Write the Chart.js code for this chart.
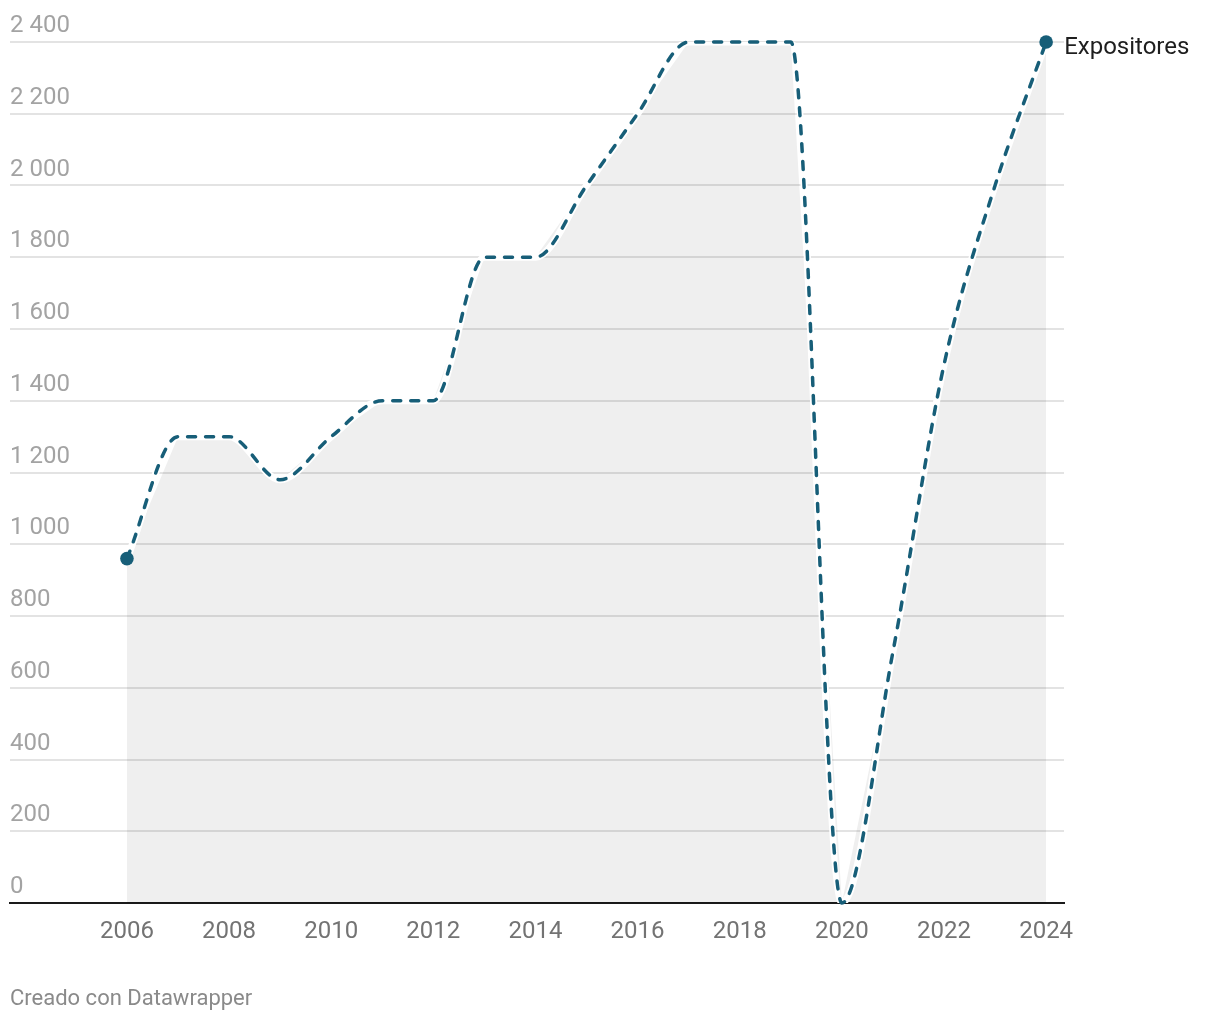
<!DOCTYPE html>
<html><head><meta charset="utf-8">
<script src="https://cdn.jsdelivr.net/npm/chart.js@4"></script>
<style>html,body{margin:0;padding:0;background:#fff}#wrap{width:1220px;height:1020px;position:relative}</style>
</head><body><div id="wrap"><canvas id="c" width="1220" height="1020"></canvas></div>
<script>
const years = [2006,2007,2008,2009,2010,2011,2012,2013,2014,2015,2016,2017,2018,2019,2020,2021,2022,2023,2024];
const expositores = [960,1300,1300,1180,1300,1400,1400,1800,1800,2000,2200,2400,2400,2400,0,700,1500,2000,2400];
const yTicks = [0,200,400,600,800,1000,1200,1400,1600,1800,2000,2200,2400];
const xTicks = [2006,2008,2010,2012,2014,2016,2018,2020,2022,2024];
const seriesLabel = 'Expositores';
const footerText = 'Creado con Datawrapper';

const lineColor = '#175e78';
const FONT = 'Roboto';
const pts = years.map((y,i)=>({x:y, y:expositores[i]}));
const lastIdx = years.length-1;

function fmt(v){ const s = String(v); return v>=1000 ? s.slice(0,s.length-3)+' '+s.slice(-3) : s; }

const labelPlugin = {
  id:'labels',
  afterDatasetsDraw(chart){
    const ctx = chart.ctx;
    const meta = chart.getDatasetMeta(2);
    const p = meta.data[lastIdx];
    ctx.save();
    ctx.font = '24px ' + FONT;
    ctx.fillStyle = '#1e1e1e';
    ctx.textAlign = 'left';
    ctx.textBaseline = 'middle';
    ctx.fillText(seriesLabel, p.x + 18, p.y + 6);
    ctx.font = '22px ' + FONT;
    ctx.fillStyle = '#8a8a8a';
    ctx.fillText(footerText, 10, 999);
    ctx.restore();
  }
};

new Chart(document.getElementById('c'), {
  type:'line',
  data:{ datasets:[
    { data: pts, tension:0, fill:'origin', backgroundColor:'rgba(0,0,0,0.063)', borderWidth:0, pointRadius:0, order:3 },
    { data: pts, cubicInterpolationMode:'monotone', fill:false, borderColor:'#ffffff', borderWidth:7, pointRadius:0, order:2 },
    { data: pts, cubicInterpolationMode:'monotone', fill:false, borderColor:lineColor, borderWidth:3.5, borderDash:[8,10], borderCapStyle:'round',
      clip:false,
      pointRadius: c => (c.dataIndex===0 || c.dataIndex===lastIdx) ? 6.8 : 0,
      pointBackgroundColor: lineColor, pointBorderWidth:0, order:1 }
  ]},
  options:{
    responsive:false, animation:false, devicePixelRatio:1,
    layout:{ padding:{ left:10, right:156, top:42, bottom:0 } },
    plugins:{ legend:{display:false}, tooltip:{enabled:false} },
    scales:{
      x:{ type:'linear', min:2003.71, max:2024.35, z:1,
        afterBuildTicks: s => { s.ticks = xTicks.map(v=>({value:v})); },
        afterFit: s => { s.height = 117; },
        grid:{ display:false, drawTicks:false },
        border:{ display:true, color:'#1a1a1a', width:2 },
        ticks:{ padding:15, color:'#737373', font:{family:FONT, size:24}, maxRotation:0, autoSkip:false, callback: v => String(v) }
      },
      y:{ type:'linear', min:0, max:2400,
        afterBuildTicks: s => { s.ticks = yTicks.map(v=>({value:v})); },
        afterFit: s => { s.width = 0; },
        grid:{ color:'#e3e3e3', lineWidth:2, drawTicks:false },
        border:{ display:false },
        ticks:{ mirror:true, padding:0, labelOffset:-16, color:'#a3a3a3', font:{family:FONT, size:24}, callback: v => fmt(v) }
      }
    }
  },
  plugins:[labelPlugin]
});
</script></body></html>
